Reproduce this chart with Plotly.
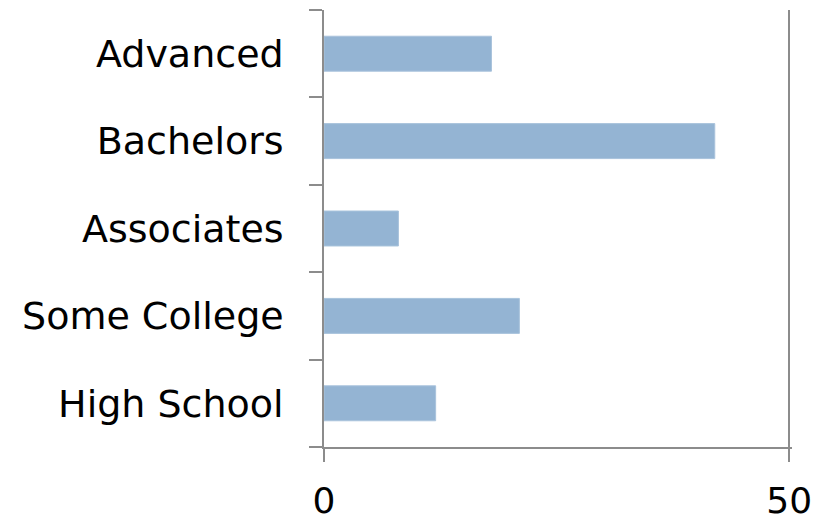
import plotly.graph_objects as go

categories = ["High School", "Some College", "Associates", "Bachelors", "Advanced"]
values = [12, 21, 8, 42, 18]
x_ticks = [0, 50]

axis_color = "#8c8c8c"
font_family = "'DejaVu Sans', sans-serif"

fig = go.Figure(
    go.Bar(
        y=categories,
        x=values,
        orientation="h",
        marker=dict(color="#94b4d3", line=dict(color="#a9c3dc", width=1)),
        width=0.4,
    )
)

fig.update_layout(
    width=833,
    height=521,
    margin=dict(l=324, r=41, t=10, b=74),
    paper_bgcolor="white",
    plot_bgcolor="white",
    showlegend=False,
    font=dict(family=font_family, size=38, color="black"),
)

fig.update_xaxes(
    range=[0, 50.3],
    tickvals=x_ticks,
    ticktext=[str(v) for v in x_ticks],
    showgrid=True,
    gridcolor=axis_color,
    gridwidth=1.5,
    zeroline=False,
    showline=True,
    linecolor=axis_color,
    linewidth=1.5,
    ticks="outside",
    ticklen=13,
    tickwidth=1.5,
    tickcolor=axis_color,
    tickfont=dict(size=36),
    ticklabelstandoff=8,
    automargin=False,
)

fig.update_yaxes(
    categoryorder="array",
    categoryarray=categories,
    showgrid=False,
    zeroline=False,
    showline=True,
    linecolor=axis_color,
    linewidth=1.5,
    ticks="outside",
    tickson="boundaries",
    ticklen=13,
    tickwidth=1.5,
    tickcolor=axis_color,
    tickfont=dict(size=38),
    ticklabelstandoff=31,
    automargin=False,
)

fig.write_html("out.html")
